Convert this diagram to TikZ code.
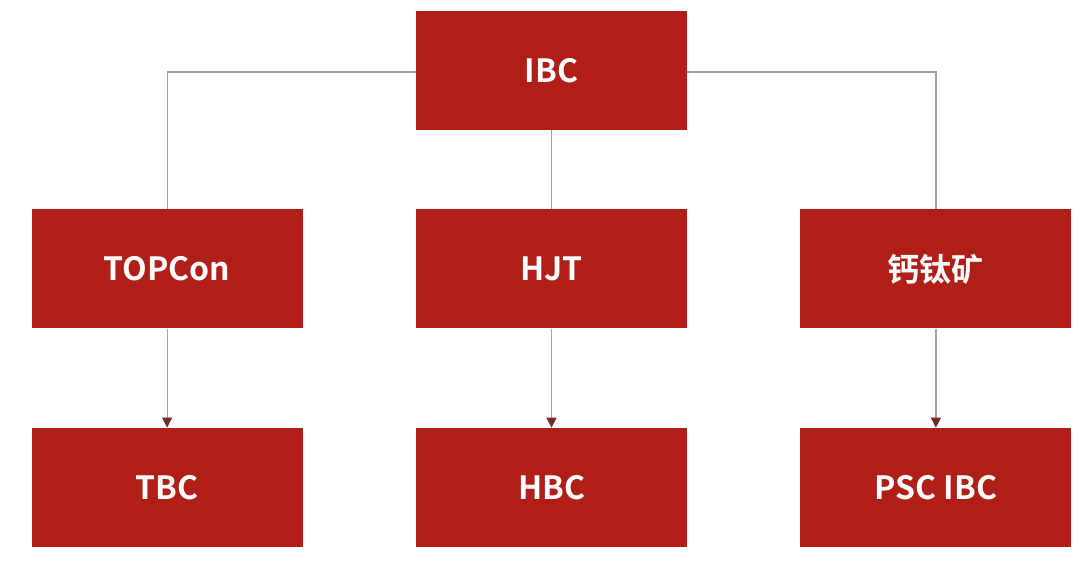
\documentclass[tikz,border=0pt]{standalone}
\usepackage{fontspec}
\setmainfont{Noto Sans CJK SC}[BoldFont={Noto Sans CJK SC Bold}]
\usetikzlibrary{positioning, arrows.meta}
\definecolor{cellred}{RGB}{176,30,24}
\definecolor{linegray}{RGB}{160,160,160}
\definecolor{tipred}{RGB}{120,40,40}
\begin{document}
\begin{tikzpicture}[
        x=1pt, y=-1pt,
        node distance=79pt and 113pt,
        cell/.style={rectangle, fill=cellred, minimum width=271pt, minimum height=119pt, inner sep=0pt, text=white, font=\fontsize{32}{38}\selectfont\bfseries},
        link/.style={draw=linegray, line width=1.2pt},
        arrow/.style={link, -{Triangle[length=10pt, width=10pt, color=tipred]}}
    ]
        \useasboundingbox (0,0) rectangle (1085,563);
        \node[cell] (ibc) at (551.5,70.5) {IBC};
        \node[cell, below=of ibc] (hjt) {HJT};
        \node[cell, left=of hjt] (topcon) {TOPCon};
        \node[cell, right=of hjt] (psc) {钙钛矿};
        \node[cell, below=99pt of topcon] (tbc) {TBC};
        \node[cell, below=99pt of hjt] (hbc) {HBC};
        \node[cell, below=99pt of psc] (pscibc) {PSC IBC};

        \draw[link] ([yshift=-1.5pt]ibc.west) -| (topcon.north);
        \draw[link] ([yshift=-1.5pt]ibc.east) -| (psc.north);
        \draw[link] (ibc) -- (hjt);
        \draw[arrow] (topcon) -- (tbc);
        \draw[arrow] (hjt) -- (hbc);
        \draw[arrow] (psc) -- (pscibc);
    \end{tikzpicture}
\end{document}
